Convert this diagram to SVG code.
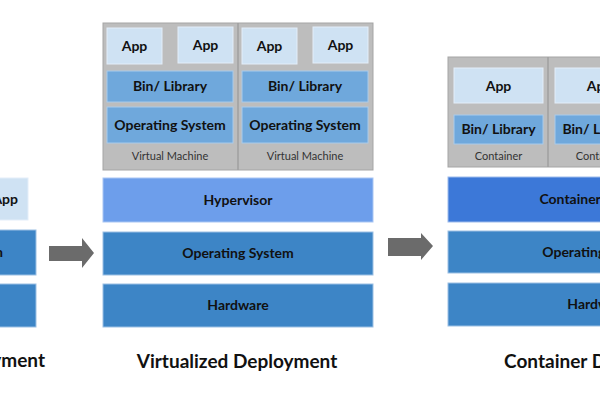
<svg xmlns="http://www.w3.org/2000/svg" width="600" height="400" viewBox="0 0 600 400">
<style>
.bg{fill:#ffffff}
.gray{fill:#bdbdbd;stroke:#a5a5a5;stroke-width:1}
.div{stroke:#a0a0a0;stroke-width:1.5}
.app{fill:#cfe2f3;stroke:#e3eef9;stroke-width:1}
.bin{fill:#6fa8dc;stroke:#a9cbeb;stroke-width:1}
.os{fill:#3d85c6;stroke:#9cc0e4;stroke-width:1}
.hyp{fill:#6d9eeb;stroke:#a9c6f3;stroke-width:1}
.rt{fill:#3c78d8;stroke:#9dbbec;stroke-width:1}
.arrow{fill:#6b6b6b}
text{font-family:Lato,"Open Sans","Liberation Sans",sans-serif;fill:#111;text-anchor:middle}
.lbl{font-size:14px;font-weight:bold}
.small{font-size:11px;fill:#333}
.title{font-size:19px;font-weight:bold}
</style>
<rect class="bg" x="0" y="0" width="600" height="400"/>

<g id="traditional">
  <g id="trad-app"><rect class="app" x="-40" y="178" width="68" height="42"/><text class="lbl" x="18" y="204" style="text-anchor:end">App</text></g>
  <g id="trad-os"><rect class="os" x="-240" y="230" width="276" height="45"/><text class="lbl" x="3" y="257" style="text-anchor:end">Operating System</text></g>
  <g id="trad-hw"><rect class="os" x="-240" y="284" width="276" height="43"/><text class="lbl" x="-69" y="310" style="text-anchor:end">Hardware</text></g>
  <text class="title" x="45" y="367" style="text-anchor:end">Traditional Deployment</text>
</g>

<g id="virtualized">
  <g id="vm-area">
    <rect class="gray" x="103" y="23" width="270" height="147"/>
    <line class="div" x1="238" y1="23" x2="238" y2="170"/>
  </g>
  <g id="vm1">
    <g id="vm1-app1"><rect class="app" x="107" y="28" width="55" height="36"/><text class="lbl" x="134.5" y="51">App</text></g>
    <g id="vm1-app2"><rect class="app" x="178" y="27" width="55" height="36"/><text class="lbl" x="205.5" y="50">App</text></g>
    <g id="vm1-bin"><rect class="bin" x="107" y="71" width="126" height="31"/><text class="lbl" x="170" y="91">Bin/ Library</text></g>
    <g id="vm1-os"><rect class="bin" x="107" y="107" width="126" height="36"/><text class="lbl" x="170" y="130">Operating System</text></g>
    <text class="small" x="170" y="160">Virtual Machine</text>
  </g>
  <g id="vm2">
    <g id="vm2-app1"><rect class="app" x="242" y="28" width="55" height="36"/><text class="lbl" x="269.5" y="51">App</text></g>
    <g id="vm2-app2"><rect class="app" x="313" y="27" width="55" height="36"/><text class="lbl" x="340.5" y="50">App</text></g>
    <g id="vm2-bin"><rect class="bin" x="242" y="71" width="126" height="31"/><text class="lbl" x="305" y="91">Bin/ Library</text></g>
    <g id="vm2-os"><rect class="bin" x="242" y="107" width="126" height="36"/><text class="lbl" x="305" y="130">Operating System</text></g>
    <text class="small" x="305" y="160">Virtual Machine</text>
  </g>
  <g id="hypervisor"><rect class="hyp" x="103" y="178" width="270" height="44"/><text class="lbl" x="238" y="205">Hypervisor</text></g>
  <g id="virt-os"><rect class="os" x="103" y="232" width="270" height="43"/><text class="lbl" x="238" y="258">Operating System</text></g>
  <g id="virt-hw"><rect class="os" x="103" y="284" width="270" height="43"/><text class="lbl" x="238" y="310">Hardware</text></g>
  <text class="title" x="237" y="368">Virtualized Deployment</text>
</g>

<g id="container">
  <g id="ct-area">
    <rect class="gray" x="448" y="57" width="300" height="110"/>
    <line class="div" x1="548" y1="57" x2="548" y2="167"/>
  </g>
  <g id="ct1">
    <g id="ct1-app"><rect class="app" x="454" y="68" width="89" height="35"/><text class="lbl" x="498.5" y="91">App</text></g>
    <g id="ct1-bin"><rect class="bin" x="454" y="115" width="89" height="29"/><text class="lbl" x="498.5" y="134">Bin/ Library</text></g>
    <text class="small" x="498.5" y="160">Container</text>
  </g>
  <g id="ct2">
    <g id="ct2-app"><rect class="app" x="555" y="68" width="89" height="35"/><text class="lbl" x="599.5" y="91">App</text></g>
    <g id="ct2-bin"><rect class="bin" x="555" y="115" width="89" height="29"/><text class="lbl" x="599.5" y="134">Bin/ Library</text></g>
    <text class="small" x="599.5" y="160">Container</text>
  </g>
  <g id="runtime"><rect class="rt" x="448" y="177" width="300" height="45"/><text class="lbl" x="598" y="204">Container Runtime</text></g>
  <g id="ct-os"><rect class="os" x="448" y="231" width="300" height="42"/><text class="lbl" x="598" y="257">Operating System</text></g>
  <g id="ct-hw"><rect class="os" x="448" y="283" width="300" height="43"/><text class="lbl" x="598" y="309">Hardware</text></g>
  <text class="title" x="600" y="368">Container Deployment</text>
</g>

<g id="connectors">
  <polygon class="arrow" points="49,246 82,246 82,238 94,253 82,268 82,261 49,261"/>
  <polygon class="arrow" points="388,238 421,238 421,233 433,246 421,260 421,256 388,256"/>
</g>
</svg>
